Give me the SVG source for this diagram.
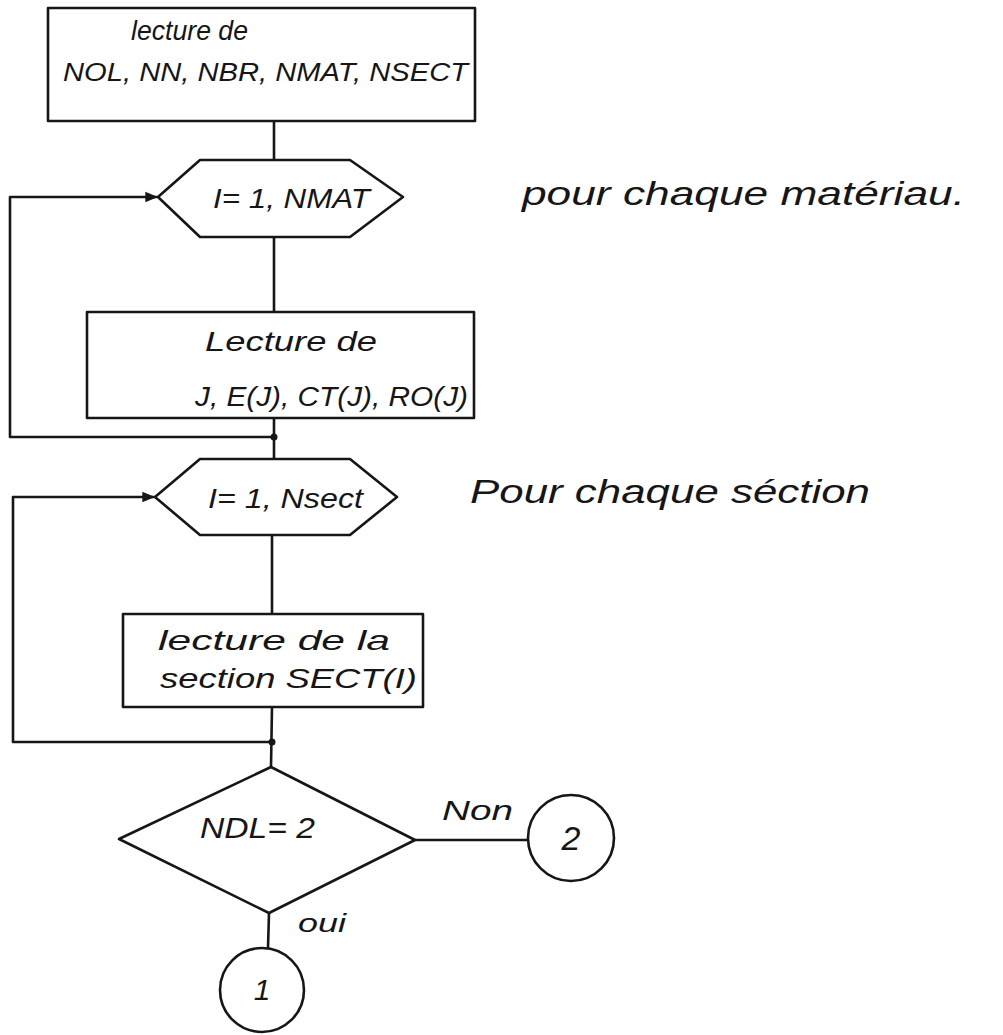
<svg xmlns="http://www.w3.org/2000/svg" width="1003" height="1035" viewBox="0 0 1003 1035">
<defs>
<style>
.s{fill:none;stroke:#161616;stroke-width:2.6;stroke-linejoin:round;stroke-linecap:round}
.n{fill:#fff;stroke:#161616;stroke-width:2.6;stroke-linejoin:round}
.t{font-family:"Liberation Sans","DejaVu Sans",sans-serif;font-style:italic;fill:#161616}
</style>
<marker id="ah" viewBox="0 0 10 10" refX="9" refY="5" markerWidth="5" markerHeight="5" orient="auto" markerUnits="strokeWidth">
<path d="M0,1 L10,5 L0,9 z" fill="#161616"/>
</marker>
</defs>
<rect width="1003" height="1035" fill="#ffffff"/>
<g id="connectors">
<path class="s" d="M274,121 L274,160"/>
<path class="s" d="M274,237 L274,312"/>
<path class="s" d="M274,418 L274,459"/>
<path class="s" d="M272,535 L272,614"/>
<path class="s" d="M272,707 L271,767"/>
<path class="s" d="M269,913 L268,948"/>
<path class="s" d="M415,840 L528,840"/>
<path class="s" d="M274,437 L10,437 L10,197 L157,197" marker-end="url(#ah)"/>
<path class="s" d="M272,742 L13,742 L13,497 L154,497" marker-end="url(#ah)"/>
<circle cx="274" cy="437" r="3.5" fill="#161616"/>
<circle cx="272" cy="742" r="3.5" fill="#161616"/>
</g>
<g id="read-params">
<rect class="n" x="48" y="8" width="427" height="113"/>
<text class="t" x="131" y="40" font-size="28" textLength="117" lengthAdjust="spacingAndGlyphs">lecture de</text>
<text class="t" x="63" y="81" font-size="26" textLength="405" lengthAdjust="spacingAndGlyphs">NOL, NN, NBR, NMAT, NSECT</text>
</g>
<g id="loop-mat">
<polygon class="n" points="158,197 200,160 350,160 403,197 350,237 200,237"/>
<text class="t" x="213" y="208" font-size="27" textLength="157" lengthAdjust="spacingAndGlyphs">I= 1, NMAT</text>
</g>
<g id="read-mat">
<rect class="n" x="87" y="312" width="387" height="106"/>
<text class="t" x="205" y="351" font-size="28" textLength="172" lengthAdjust="spacingAndGlyphs">Lecture de</text>
<text class="t" x="195" y="406" font-size="27" textLength="273" lengthAdjust="spacingAndGlyphs">J, E(J), CT(J), RO(J)</text>
</g>
<g id="note-mat">
<text class="t" x="522" y="205" font-size="34" textLength="443" lengthAdjust="spacingAndGlyphs">pour chaque matériau.</text>
</g>
<g id="loop-sect">
<polygon class="n" points="155,497 200,459 350,459 397,497 350,535 200,535"/>
<text class="t" x="208" y="508" font-size="28" textLength="155" lengthAdjust="spacingAndGlyphs">I= 1, Nsect</text>
</g>
<g id="note-sect">
<text class="t" x="470" y="503" font-size="34" textLength="400" lengthAdjust="spacingAndGlyphs">Pour chaque séction</text>
</g>
<g id="read-sect">
<rect class="n" x="123" y="614" width="300" height="93"/>
<text class="t" x="158" y="650" font-size="28" textLength="232" lengthAdjust="spacingAndGlyphs">lecture de la</text>
<text class="t" x="160" y="688" font-size="28" textLength="257" lengthAdjust="spacingAndGlyphs">section   SECT(I)</text>
</g>
<g id="test-ndl">
<polygon class="n" points="271,767 415,840 269,913 119,839"/>
<text class="t" x="200" y="838" font-size="30" textLength="115" lengthAdjust="spacingAndGlyphs">NDL= 2</text>
</g>
<g id="label-non">
<text class="t" x="442" y="820" font-size="28" textLength="71" lengthAdjust="spacingAndGlyphs">Non</text>
</g>
<g id="label-oui">
<text class="t" x="298" y="932" font-size="26" textLength="48" lengthAdjust="spacingAndGlyphs">oui</text>
</g>
<g id="conn-1">
<circle class="n" cx="262" cy="990" r="42"/>
<text class="t" x="262" y="1000" font-size="30" text-anchor="middle">1</text>
</g>
<g id="conn-2">
<circle class="n" cx="571" cy="838" r="43"/>
<text class="t" x="571" y="850" font-size="34" text-anchor="middle">2</text>
</g>
</svg>
